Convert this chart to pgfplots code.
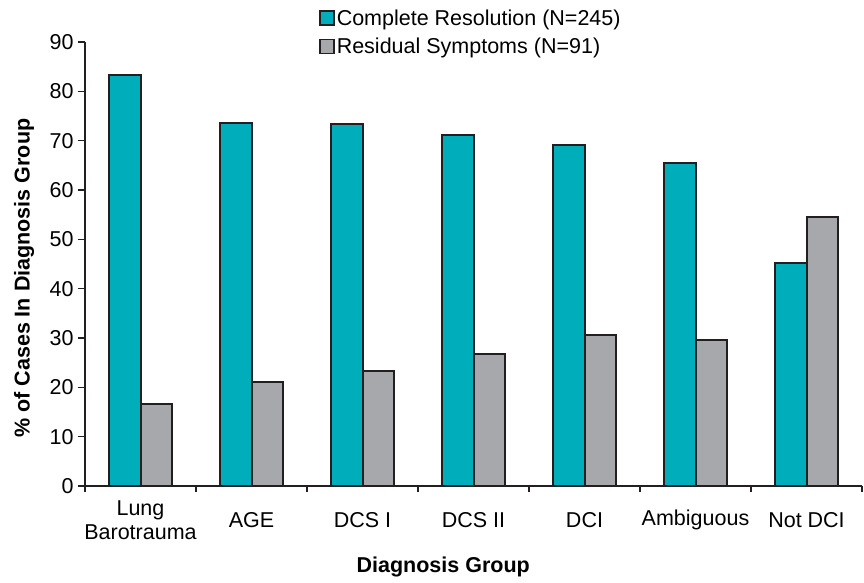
\documentclass[border=0pt]{standalone}
\usepackage{fontspec}
\setmainfont{Liberation Sans}
\usepackage{pgfplots}
\pgfplotsset{compat=1.18}

\definecolor{resteal}{HTML}{00ADBB}
\definecolor{resgray}{HTML}{A7A8AC}
\definecolor{edge}{HTML}{231F20}

\begin{document}
\begin{tikzpicture}
\begin{axis}[
  scale only axis,
  width=777pt, height=444pt,
  ybar=0pt, bar width=0.288,
  xmin=-0.5, xmax=6.5,
  ymin=0, ymax=90,
  axis lines*=left,
  axis line style={line width=1.3pt, edge},
  font=\fontsize{21.5}{24.5}\selectfont,
  /pgf/number format/assume math mode=true,
  xtick={0,...,6},
  xticklabels={{Lung\\Barotrauma},AGE,DCS I,DCS II,DCI,Ambiguous,Not DCI},
  xticklabel style={align=center, anchor=center, yshift=-27pt},
  major x tick style={draw=none},
  minor xtick={-0.5,0.5,...,6.5},
  ytick={0,10,...,90},
  tick align=outside,
  major tick length=7pt, minor tick length=6pt,
  tick style={line width=1.3pt, edge},
  yticklabel style={xshift=-1pt},
  xlabel={\bfseries Diagnosis Group},
  ylabel={\bfseries \% of Cases In Diagnosis Group},
  xlabel style={at={(axis description cs:0.461,-0.182)}, anchor=center},
  ylabel style={at={(axis description cs:-0.0785,0.468)}, anchor=center},
  legend style={at={(axis description cs:0.297,1.082)}, anchor=north west,
    draw=none, fill=none, row sep=7pt, font=\fontsize{21.5}{24}\selectfont},
  legend cell align=left,
]
\addplot[draw=edge, line width=2pt, fill=resteal,
  legend image code/.code={\draw[draw=edge, line width=1.8pt, fill=resteal] (-7pt,-7pt) rectangle (7pt,7pt);}]
  coordinates {(0,83.3) (1,73.6) (2,73.4) (3,71.2) (4,69.1) (5,65.5) (6,45.3)};
\addlegendentry{Complete Resolution (N=245)}
\addplot[draw=edge, line width=2pt, fill=resgray,
  legend image code/.code={\draw[draw=edge, line width=1.8pt, fill=resgray] (-7pt,-7pt) rectangle (7pt,7pt);}]
  coordinates {(0,16.6) (1,21.0) (2,23.4) (3,26.7) (4,30.7) (5,29.6) (6,54.5)};
\addlegendentry{Residual Symptoms (N=91)}
\end{axis}
\pgfresetboundingbox
\useasboundingbox ([xshift=-85pt,yshift=-96pt]current axis.south west) rectangle ([xshift=2pt,yshift=42pt]current axis.north east);
\end{tikzpicture}
\end{document}
